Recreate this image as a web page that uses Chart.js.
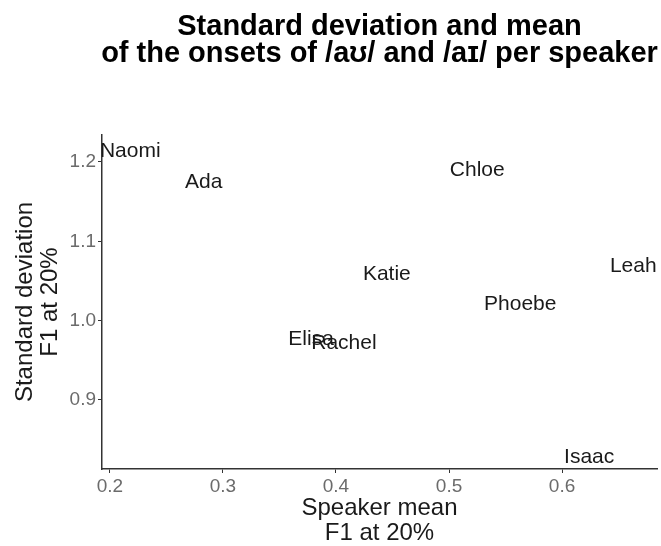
<!DOCTYPE html>
<html>
<head>
<meta charset="utf-8">
<script src="https://cdn.jsdelivr.net/npm/chart.js@4.4.1/dist/chart.umd.min.js"></script>
<style>
    html, body { margin: 0; padding: 0; background: #fff; }
    #wrap { width: 661px; height: 546px; }
</style>
</head>
<body>
<div id="wrap"><canvas id="chart" width="661" height="546"></canvas></div>
<script>
    // ── Data ───────────────────────────────────
    const speakers = ['Naomi', 'Ada', 'Chloe', 'Katie', 'Leah', 'Phoebe', 'Elisa', 'Rachel', 'Isaac'];
    const meanF1   = [0.218, 0.283, 0.525, 0.445, 0.663, 0.563, 0.378, 0.407, 0.624];
    const sdF1     = [1.213, 1.175, 1.190, 1.058, 1.069, 1.021, 0.977, 0.972, 0.828];
    const xTicks   = [0.2, 0.3, 0.4, 0.5, 0.6];
    const yTicks   = [0.9, 1.0, 1.1, 1.2];
    const titleLines = ['Standard deviation and mean', 'of the onsets of /aʊ/ and /aɪ/ per speaker'];

    const FONT = '"Liberation Sans", Arial, Helvetica, sans-serif';

    // ── Plugins ────────────────────────────────
    // speaker names drawn at each point, clipped to the panel like ggplot
    const textLabels = {
        id: 'textLabels',
        afterDatasetsDraw(chart) {
            const { ctx, chartArea } = chart;
            const meta = chart.getDatasetMeta(0);
            ctx.save();
            ctx.beginPath();
            ctx.rect(chartArea.left, chartArea.top, chartArea.right - chartArea.left, chartArea.bottom - chartArea.top);
            ctx.clip();
            ctx.font = `21px ${FONT}`;
            ctx.fillStyle = '#1a1a1a';
            ctx.textAlign = 'center';
            ctx.textBaseline = 'middle';
            meta.data.forEach((pt, i) => ctx.fillText(speakers[i], pt.x, pt.y));
            ctx.restore();
        }
    };

    // title centred over the panel
    const panelTitle = {
        id: 'panelTitle',
        afterDraw(chart) {
            const { ctx, chartArea } = chart;
            const cx = (chartArea.left + chartArea.right) / 2;
            ctx.save();
            ctx.font = `bold 29px ${FONT}`;
            ctx.fillStyle = '#000';
            ctx.textAlign = 'center';
            ctx.textBaseline = 'alphabetic';
            ctx.fillText(titleLines[0], cx, 35);
            ctx.fillText(titleLines[1], cx, 62);
            ctx.restore();
        }
    };

    // ── Chart ──────────────────────────────────
    const axisCommon = {
        type: 'linear',
        border: { display: true, color: '#333', width: 1.5 },
        grid: { drawOnChartArea: false, drawTicks: true, tickLength: 4, color: '#333', lineWidth: 1 },
        title: { display: true, color: '#1a1a1a', font: { family: FONT, size: 24, lineHeight: '25px' } }
    };

    new Chart(document.getElementById('chart'), {
        type: 'scatter',
        data: {
            datasets: [{
                data: meanF1.map((x, i) => ({ x, y: sdF1[i] })),
                pointRadius: 0,
                pointHoverRadius: 0
            }]
        },
        options: {
            responsive: false,
            animation: false,
            events: [],
            layout: { padding: { top: 135, right: 4, left: 0, bottom: 0 } },
            plugins: { legend: { display: false }, tooltip: { enabled: false } },
            scales: {
                x: {
                    ...axisCommon,
                    min: 0.193, max: 0.684,
                    afterBuildTicks: s => { s.ticks = xTicks.map(v => ({ value: v })); },
                    afterFit: s => { s.height = 77; },
                    ticks: { color: '#6b6b6b', padding: 2, font: { family: FONT, size: 19 }, callback: v => v.toFixed(1) },
                    title: { ...axisCommon.title, text: ['Speaker mean', 'F1 at 20%'], padding: { top: 0, bottom: 0 } }
                },
                y: {
                    ...axisCommon,
                    min: 0.813, max: 1.234,
                    afterBuildTicks: s => { s.ticks = yTicks.map(v => ({ value: v })); },
                    afterFit: s => { s.width = 102; },
                    ticks: { color: '#6b6b6b', padding: 2, font: { family: FONT, size: 19 }, callback: v => v.toFixed(1) },
                    title: { ...axisCommon.title, text: ['Standard deviation', 'F1 at 20%'], padding: { top: 13, bottom: 0 } }
                }
            }
        },
        plugins: [textLabels, panelTitle]
    });
</script>
</body>
</html>
